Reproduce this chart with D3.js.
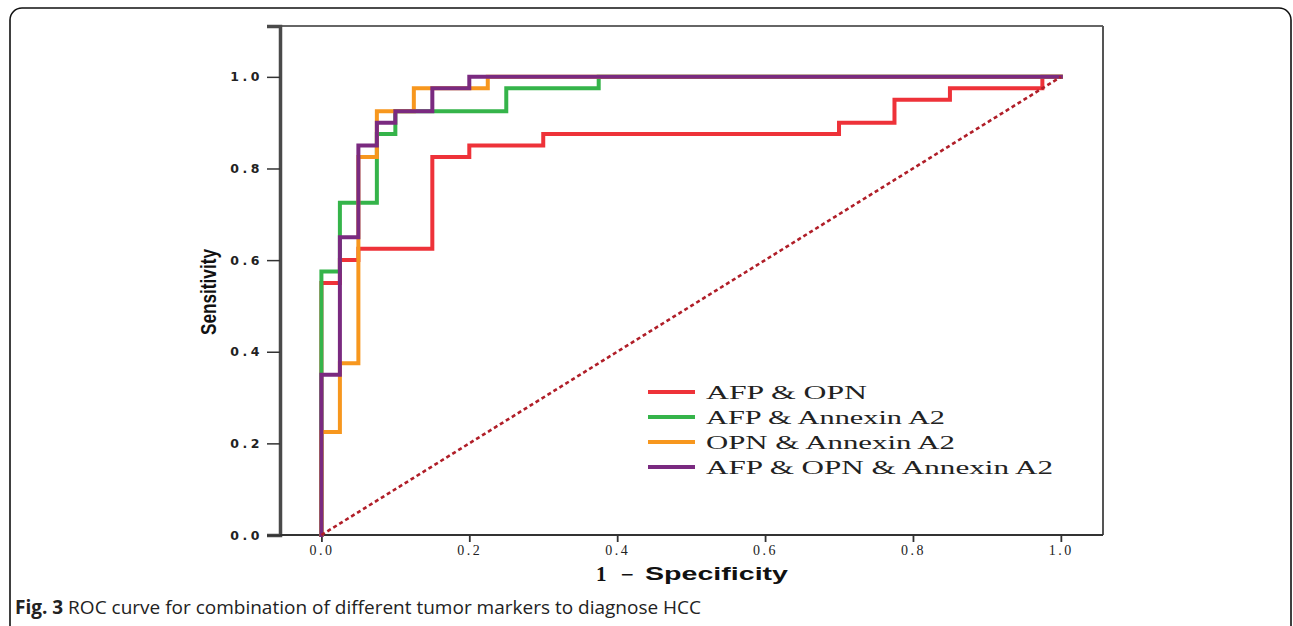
<!DOCTYPE html>
<html>
<head>
<meta charset="utf-8">
<script src="https://cdn.jsdelivr.net/npm/d3@7"></script>
<style>
  html, body { margin: 0; padding: 0; background: #fff; }
  svg { display: block; }
</style>
</head>
<body>
<svg id="chart" width="1293" height="626"></svg>
<script>
// ---- data ----
const seriesNames = ["AFP & OPN", "AFP & Annexin A2", "OPN & Annexin A2", "AFP & OPN & Annexin A2"];
const seriesColors = ["#ee3239", "#35b44a", "#f7971e", "#7a2a80"];
const fprAfpOpn = [0, 0, 0.025, 0.05, 0.15, 0.2, 0.3, 0.7, 0.775, 0.85, 0.975, 1];
const tprAfpOpn = [0, 0.55, 0.6, 0.625, 0.825, 0.85, 0.875, 0.9, 0.95, 0.975, 1, 1];
const fprAfpAnx = [0, 0, 0.025, 0.075, 0.1, 0.25, 0.375, 1];
const tprAfpAnx = [0, 0.575, 0.725, 0.875, 0.925, 0.975, 1, 1];
const fprOpnAnx = [0, 0, 0.025, 0.05, 0.075, 0.125, 0.225, 1];
const tprOpnAnx = [0, 0.225, 0.375, 0.825, 0.925, 0.975, 1, 1];
const fprAll = [0, 0, 0.025, 0.05, 0.075, 0.1, 0.15, 0.2, 1];
const tprAll = [0, 0.35, 0.65, 0.85, 0.9, 0.925, 0.975, 1, 1];
const refLineX = [0, 1];
const refLineY = [0, 1];
const tickValues = [0, 0.2, 0.4, 0.6, 0.8, 1.0];
const tickLabels = ["0.0", "0.2", "0.4", "0.6", "0.8", "1.0"];
const xTitleNum = "1";
const xTitleMinus = "\u2212";
const xTitleRest = "Specificity";
const yTitle = "Sensitivity";
const captionBold = "Fig. 3";
const captionText = " ROC curve for combination of different tumor markers to diagnose HCC";

const fprList = [fprAfpOpn, fprAfpAnx, fprOpnAnx, fprAll];
const tprList = [tprAfpOpn, tprAfpAnx, tprOpnAnx, tprAll];

// ---- layout ----
const svg = d3.select("#chart");
const L = 280, R = 1103, T = 26, B = 535;

// outer rounded frame
svg.append("rect")
  .attr("x", 10).attr("y", 8).attr("width", 1281).attr("height", 720)
  .attr("rx", 12).attr("ry", 12)
  .attr("fill", "none").attr("stroke", "#111").attr("stroke-width", 1.6);

const x = d3.scaleLinear().domain([-0.056, 1.057]).range([L, R]);
const y = d3.scaleLinear().domain([0, 1.111]).range([B, T]);

// plot frame
svg.append("line").attr("x1", L).attr("x2", R).attr("y1", T).attr("y2", T)
  .attr("stroke", "#333").attr("stroke-width", 1.5);
svg.append("line").attr("x1", R).attr("x2", R).attr("y1", T).attr("y2", B)
  .attr("stroke", "#555").attr("stroke-width", 2);

// axes
const fmt = (d, i) => tickLabels[i];
const yAxis = d3.axisLeft(y).tickValues(tickValues).tickFormat(fmt).tickSize(13).tickPadding(4);
const gy = svg.append("g").attr("transform", `translate(${L},0)`).call(yAxis);
gy.select(".domain").attr("stroke", "#4a4a4a").attr("stroke-width", 3.5);
gy.selectAll(".tick line").attr("stroke", "#333").attr("stroke-width", 1.5);
gy.selectAll(".tick text")
  .attr("font-family", "'DejaVu Sans', sans-serif")
  .attr("font-size", 12.5).attr("font-weight", "bold").attr("fill", "#222")
  .attr("letter-spacing", "3.5px");

const xAxis = d3.axisBottom(x).tickValues(tickValues).tickFormat(fmt).tickSize(7).tickPadding(3);
const gx = svg.append("g").attr("transform", `translate(0,${B})`).call(xAxis);
gx.select(".domain").attr("d", `M${L},0H${R}`).attr("stroke", "#333").attr("stroke-width", 2);
gx.selectAll(".tick line").attr("stroke", "#333").attr("stroke-width", 1.8);
gx.selectAll(".tick text")
  .attr("font-family", "'Liberation Serif', serif")
  .attr("font-size", 14).attr("fill", "#222")
  .attr("letter-spacing", "2.5px");

// axis titles
svg.append("text")
  .attr("x", 596).attr("y", 581)
  .attr("font-family", "'Liberation Serif', serif").attr("font-size", 21)
  .attr("font-weight", "bold").attr("fill", "#111")
  .text(xTitleNum);
svg.append("text")
  .attr("x", 627).attr("y", 580).attr("text-anchor", "middle")
  .attr("font-family", "'DejaVu Sans', sans-serif").attr("font-size", 17)
  .attr("fill", "#111")
  .text(xTitleMinus);
svg.append("text")
  .attr("x", 645).attr("y", 580)
  .attr("font-family", "'Liberation Sans', sans-serif").attr("font-size", 19)
  .attr("font-weight", "bold").attr("fill", "#111")
  .attr("textLength", 143).attr("lengthAdjust", "spacingAndGlyphs")
  .text(xTitleRest);

svg.append("text")
  .attr("transform", "translate(216,292) rotate(-90)")
  .attr("text-anchor", "middle")
  .attr("font-family", "'Liberation Sans Narrow', 'Arial Narrow', 'Liberation Sans', sans-serif")
  .attr("font-size", 22).attr("font-weight", "bold").attr("fill", "#111")
  .attr("textLength", 86).attr("lengthAdjust", "spacingAndGlyphs")
  .text(yTitle);

// curves
const line = d3.line().x(d => x(d[0])).y(d => y(d[1])).curve(d3.curveStepAfter);
seriesNames.forEach((name, i) => {
  const pts = fprList[i].map((f, j) => [f, tprList[i][j]]);
  svg.append("path")
    .datum(pts)
    .attr("d", line)
    .attr("fill", "none")
    .attr("stroke", seriesColors[i])
    .attr("stroke-width", 4)
    .attr("stroke-linejoin", "miter")
    .attr("stroke-linecap", "square");
});

// reference diagonal
svg.append("path")
  .datum(refLineX.map((v, j) => [v, refLineY[j]]))
  .attr("d", d3.line().x(d => x(d[0])).y(d => y(d[1])))
  .attr("fill", "none")
  .attr("stroke", "#b01e28")
  .attr("stroke-width", 2.6)
  .attr("stroke-dasharray", "4,3");

// legend
const legW = [161, 239, 249, 347];
const lg = svg.append("g");
seriesNames.forEach((name, i) => {
  const yy = 392 + i * 25;
  lg.append("line").attr("x1", 648).attr("x2", 695).attr("y1", yy).attr("y2", yy)
    .attr("stroke", seriesColors[i]).attr("stroke-width", 4);
  lg.append("text")
    .attr("x", 706).attr("y", yy + 7)
    .attr("font-family", "'Liberation Serif', serif")
    .attr("font-size", 19).attr("fill", "#222")
    .attr("textLength", legW[i]).attr("lengthAdjust", "spacingAndGlyphs")
    .text(name);
});

// caption
const cap = svg.append("text")
  .attr("x", 15).attr("y", 614)
  .attr("font-family", "'Open Sans', sans-serif")
  .attr("font-size", 19).attr("fill", "#222");
cap.append("tspan").attr("font-weight", "bold").text(captionBold);
cap.append("tspan").text(captionText);
</script>
</body>
</html>
